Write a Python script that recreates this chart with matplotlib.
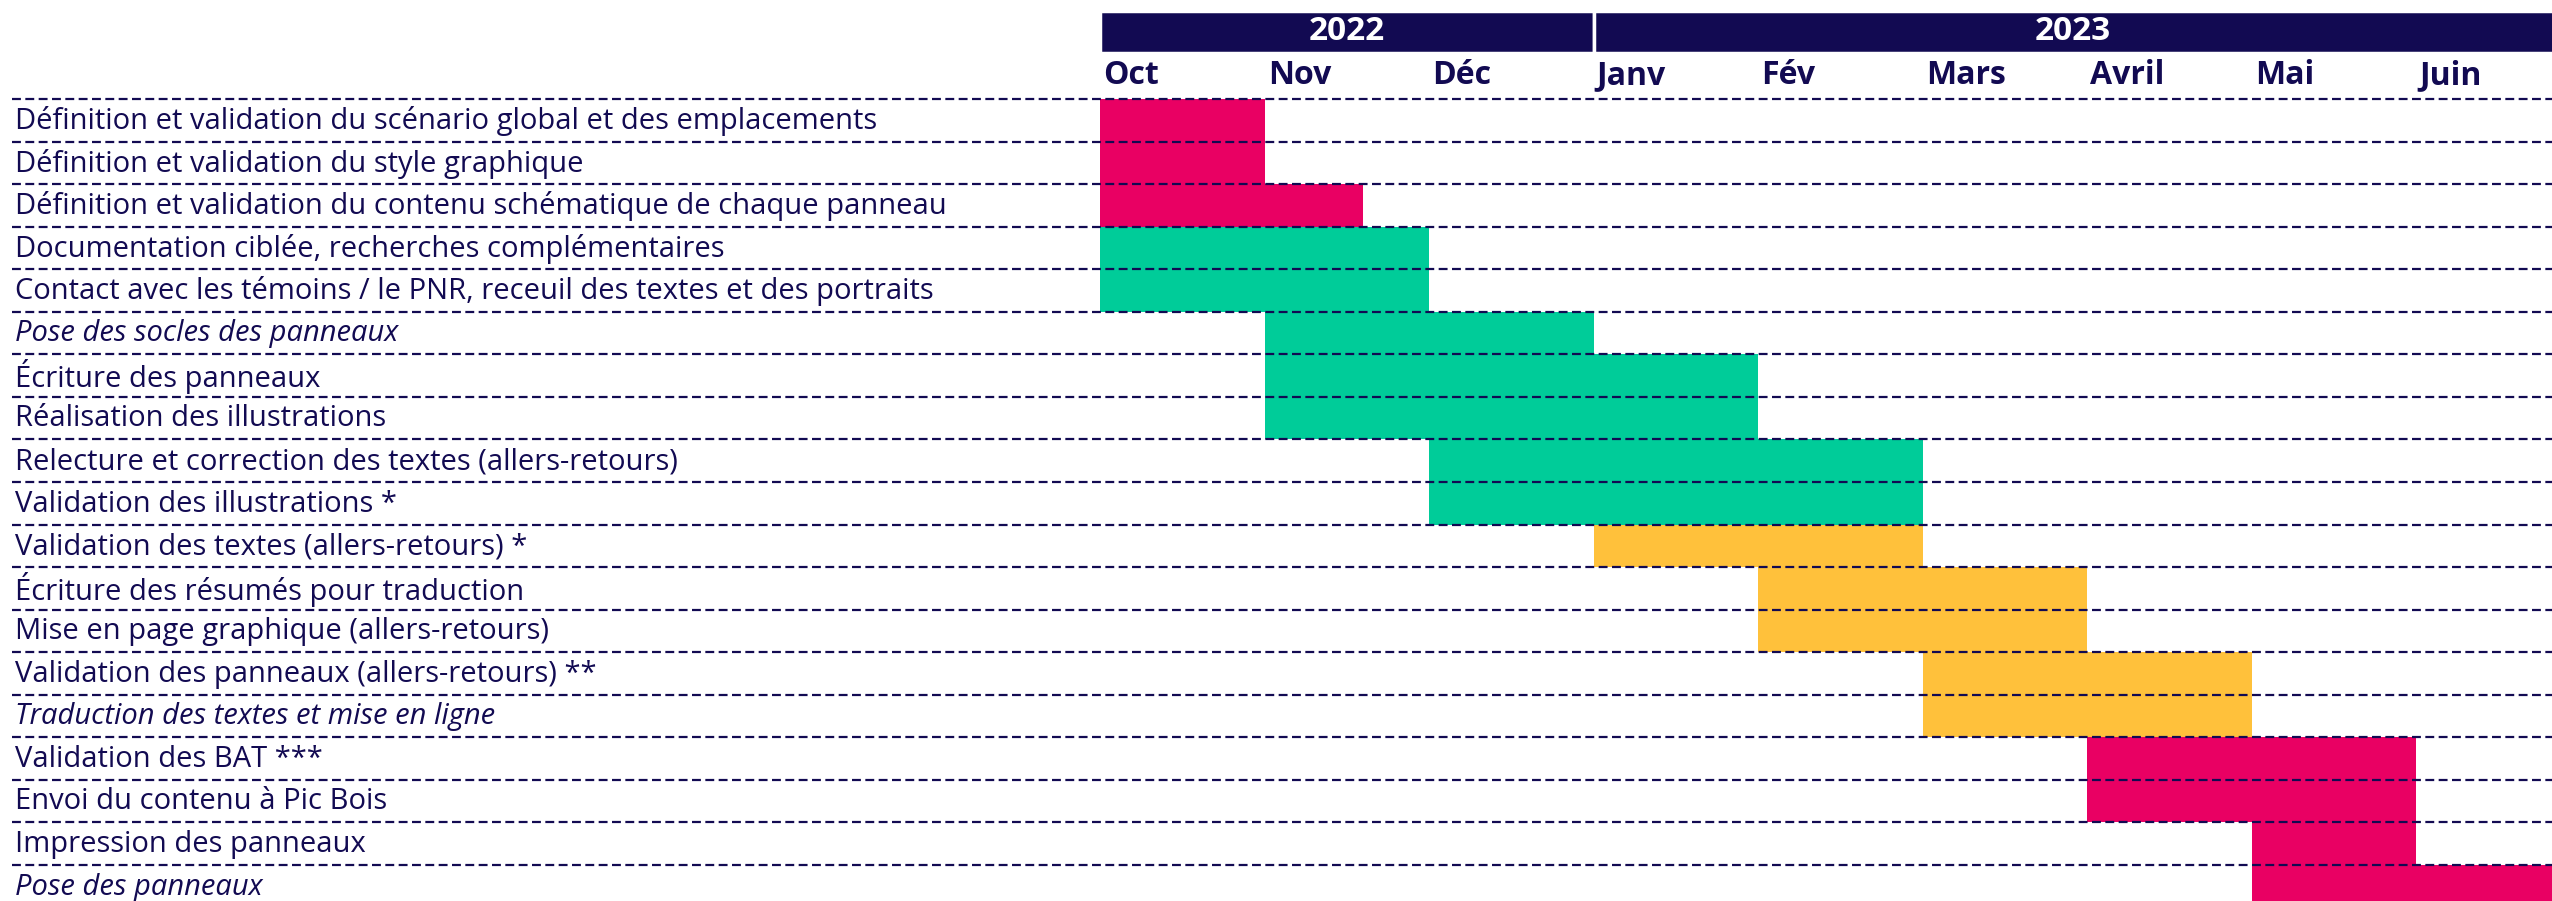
import matplotlib
matplotlib.use("Agg")
import matplotlib.pyplot as plt
import matplotlib.transforms as mtransforms

# data
months = ["Oct", "Nov", "Déc", "Janv", "Fév", "Mars", "Avril", "Mai", "Juin"]
years = ["2022", "2023"]
year_start = [0, 3]
year_end = [3, 12]

tasks = [
    "Définition et validation du scénario global et des emplacements",
    "Définition et validation du style graphique",
    "Définition et validation du contenu schématique de chaque panneau",
    "Documentation ciblée, recherches complémentaires",
    "Contact avec les témoins / le PNR, receuil des textes et des portraits",
    "Pose des socles des panneaux",
    "Écriture des panneaux",
    "Réalisation des illustrations",
    "Relecture et correction des textes (allers-retours)",
    "Validation des illustrations *",
    "Validation des textes (allers-retours) *",
    "Écriture des résumés pour traduction",
    "Mise en page graphique (allers-retours)",
    "Validation des panneaux (allers-retours) **",
    "Traduction des textes et mise en ligne",
    "Validation des BAT ***",
    "Envoi du contenu à Pic Bois",
    "Impression des panneaux",
    "Pose des panneaux",
]
italic = [5, 14, 18]
start = [0, 0, 0, 0, 0, 1, 1, 1, 2, 2, 3, 4, 4, 5, 5, 6, 6, 7, 7]
end = [1, 1, 1.6, 2, 2, 3, 4, 4, 5, 5, 5, 6, 6, 7, 7, 8, 8, 8, 9]
phase = ["rose", "rose", "rose", "vert", "vert", "vert", "vert", "vert", "vert", "vert",
         "jaune", "jaune", "jaune", "jaune", "jaune", "rose", "rose", "rose", "rose"]

colors = {"rose": "#E90063", "vert": "#00CC99", "jaune": "#FFC13B"}
navy = "#120A52"
font = "Open Sans"

W, H = 2552, 901
fig = plt.figure(figsize=(W / 100, H / 100), dpi=100)

left = 1100 / W
row_h = 42.55
top_px = 99
xmax = (W - 1100) / 164.5
nrows_vis = (H - top_px) / row_h

ax = fig.add_axes([left, 0, 1 - left, (H - top_px) / H])
ax.barh(range(len(tasks)), [e - s for s, e in zip(start, end)], left=start, height=1.0,
        align="edge", color=[colors[p] for p in phase], linewidth=0, zorder=1)
ax.set_xlim(0, xmax)
ax.set_ylim(nrows_vis, 0)
ax.axis("off")

# dashed row separators, running under the labels too
trans = mtransforms.blended_transform_factory(fig.transFigure, ax.transData)
for i in range(len(tasks) + 1):
    ax.plot([12 / W, 1], [i, i], transform=trans, color=navy, lw=1.6,
            linestyle=(0, (4, 2)), clip_on=False, zorder=3)

for i, t in enumerate(tasks):
    ax.text(15 / W, i + 0.52, t, transform=trans, ha="left", va="center",
            fontsize=21, color=navy, family=font,
            style="italic" if i in italic else "normal")

# header with years
hax = fig.add_axes([left, 1 - 53 / H, 1 - left, 42 / H], sharex=ax)
hax.barh(0, [e - s for s, e in zip(year_start, year_end)], left=year_start, height=1,
         align="edge", color=navy, edgecolor="white", linewidth=2.5)
hax.set_ylim(0, 1)
hax.set_xlim(0, xmax)
hax.axis("off")
for y, s, e in zip(years, year_start, year_end):
    hax.text((s + min(e, xmax)) / 2, 0.5, y, ha="center", va="center", color="white",
             fontsize=24, fontweight="bold", family=font)

mtrans = mtransforms.blended_transform_factory(ax.transData, fig.transFigure)
for i, m in enumerate(months):
    ax.text(i + 0.02, 1 - 76 / H, m, transform=mtrans, ha="left", va="center",
            color=navy, fontsize=23, fontweight="bold", family=font, clip_on=False)

fig.savefig("out.png", dpi=100)
